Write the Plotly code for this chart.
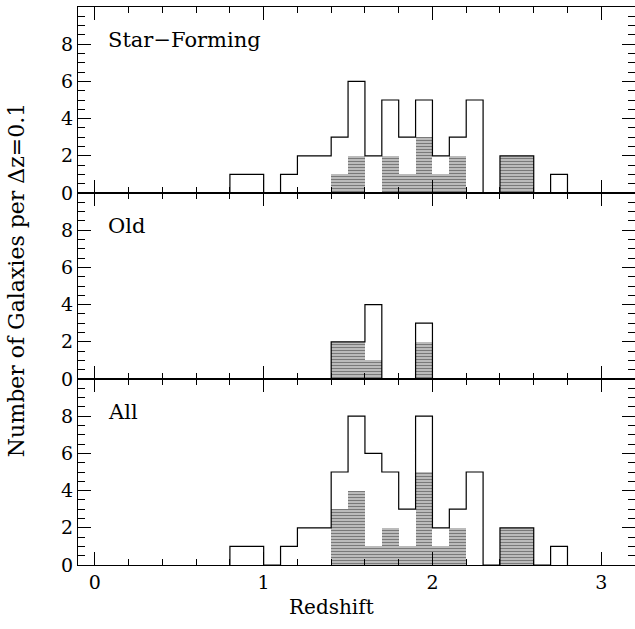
import numpy as np
import plotly.graph_objects as go
from plotly.subplots import make_subplots

# ---- data (bin width 0.1 in redshift) ----
z_bins = [0.8, 0.9, 1.0, 1.1, 1.2, 1.3, 1.4, 1.5, 1.6, 1.7,
          1.8, 1.9, 2.0, 2.1, 2.2, 2.3, 2.4, 2.5, 2.6, 2.7]
bin_width = 0.1

sf_total = [1, 1, 0, 1, 2, 2, 3, 6, 2, 5, 3, 5, 2, 3, 5, 0, 2, 2, 0, 1]
sf_hatch = [0, 0, 0, 0, 0, 0, 1, 2, 0, 2, 1, 3, 1, 2, 0, 0, 2, 2, 0, 0]

old_total = [0, 0, 0, 0, 0, 0, 2, 2, 4, 0, 0, 3, 0, 0, 0, 0, 0, 0, 0, 0]
old_hatch = [0, 0, 0, 0, 0, 0, 2, 2, 1, 0, 0, 2, 0, 0, 0, 0, 0, 0, 0, 0]

all_total = [1, 1, 0, 1, 2, 2, 5, 8, 6, 5, 3, 8, 2, 3, 5, 0, 2, 2, 0, 1]
all_hatch = [0, 0, 0, 0, 0, 0, 3, 4, 1, 2, 1, 5, 1, 2, 0, 0, 2, 2, 0, 0]

panel_labels = ["Star\u2212Forming", "Old", "All"]
x_tick_vals = [0, 1, 2, 3]
y_tick_vals = [0, 2, 4, 6, 8]

FONT = "DejaVu Serif"

panels = [(sf_total, sf_hatch), (old_total, old_hatch), (all_total, all_hatch)]

fig = make_subplots(rows=3, cols=1, shared_xaxes=True, vertical_spacing=0)

centers = [b + bin_width / 2 for b in z_bins]
for i, (tot, hat) in enumerate(panels):
    r = i + 1
    fig.add_trace(go.Bar(
        x=centers, y=hat, width=bin_width,
        marker=dict(color="white", line=dict(width=0),
                    pattern=dict(shape="-", fgcolor="#222222", bgcolor="#d0d0d0",
                                 size=3, solidity=0.5)),
        showlegend=False, hoverinfo="skip"), row=r, col=1)
    # step outline
    xs = [z_bins[0]] + list(z_bins) + [z_bins[-1] + bin_width]
    ys = [0] + list(tot) + [0]
    fig.add_trace(go.Scatter(
        x=xs, y=ys, mode="lines", line=dict(shape="hv", color="black", width=1.2),
        showlegend=False, hoverinfo="skip"), row=r, col=1)
    fig.add_annotation(text=panel_labels[i], x=0.065, y=8.2,
                       xref=f"x{'' if r == 1 else r}", yref=f"y{'' if r == 1 else r}",
                       xanchor="left", yanchor="middle", showarrow=False,
                       font=dict(family=FONT, size=21, color="black"))

minor_x = [v for v in np.round(np.arange(-0.0, 3.21, 0.2), 2) if v not in x_tick_vals]
minor_y = [v for v in np.arange(0, 10.01, 0.5) if v not in y_tick_vals]

for r in range(1, 4):
    fig.update_xaxes(row=r, col=1, range=[-0.1, 3.2], tickmode="array", tickvals=x_tick_vals,
                     ticks="inside", ticklen=13, tickwidth=1, tickcolor="black",
                     showline=True, linecolor="black", linewidth=1, mirror="ticks",
                     showgrid=False, zeroline=False,
                     showticklabels=(r == 3),
                     tickfont=dict(family=FONT, size=19, color="black"),
                     minor=dict(tickmode="array", tickvals=minor_x, ticks="inside",
                                ticklen=6, tickwidth=1, tickcolor="black", showgrid=False))
    fig.update_yaxes(row=r, col=1, range=[0, 10], tickmode="array", tickvals=y_tick_vals,
                     ticks="inside", ticklen=13, tickwidth=1, tickcolor="black",
                     showline=True, linecolor="black", linewidth=1, mirror="ticks",
                     showgrid=False, zeroline=False,
                     tickfont=dict(family=FONT, size=19, color="black"),
                     minor=dict(tickmode="array", tickvals=minor_y, ticks="inside",
                                ticklen=7, tickwidth=1, tickcolor="black", showgrid=False))

# axis titles
fig.add_annotation(text="Number of Galaxies per \u0394z=0.1", xref="paper", yref="paper",
                   x=-0.11, y=0.51, textangle=-90, showarrow=False,
                   xanchor="center", yanchor="middle",
                   font=dict(family=FONT, size=22, color="black"))
fig.add_annotation(text="Redshift", xref="x3", yref="paper", x=1.4, y=-0.075,
                   showarrow=False, xanchor="center", yanchor="middle",
                   font=dict(family=FONT, size=20, color="black"))

fig.update_layout(width=635, height=629, margin=dict(l=78, r=0, t=7, b=64),
                  paper_bgcolor="white", plot_bgcolor="white", barmode="overlay",
                  bargap=0, showlegend=False)

fig.write_html("out.html")
